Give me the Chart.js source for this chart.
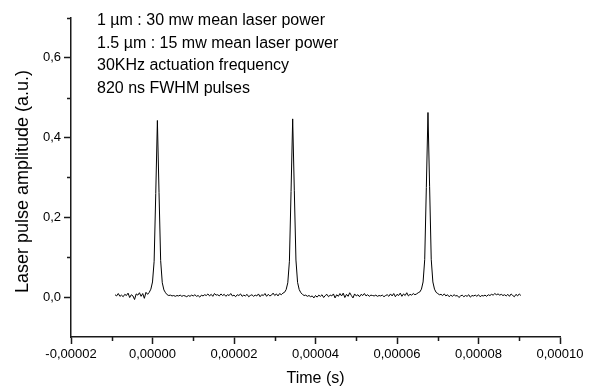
<!DOCTYPE html>
<html>
<head>
<meta charset="utf-8">
<script src="https://cdn.jsdelivr.net/npm/chart.js@4/dist/chart.umd.min.js"></script>
<style>
  html, body { margin: 0; padding: 0; background: #fff; }
  #wrap { width: 593px; height: 388px; }
</style>
</head>
<body>
<div id="wrap"><canvas id="c" width="593" height="388"></canvas></div>
<script>
// ---- Data (time in microseconds, amplitude in a.u.) ----
const timeUs = [
  -9.2,-8.8,-8.4,-8.0,-7.6,-7.2,-6.8,-6.4,-6.0,-5.6,
  -5.2,-4.8,-4.4,-4.0,-3.6,-3.2,-2.8,-2.4,-2.0,-1.6,
  -1.2,-0.8,-0.4,0.0,0.4,0.8,1.2,1.6,2.0,2.4,
  2.8,3.2,3.6,4.0,4.4,4.8,5.2,5.6,6.0,6.4,
  6.8,7.2,7.6,8.0,8.4,8.8,9.2,9.6,10.0,10.4,
  10.8,11.2,11.6,12.0,12.4,12.8,13.2,13.6,14.0,14.4,
  14.8,15.2,15.6,16.0,16.4,16.8,17.2,17.6,18.0,18.4,
  18.8,19.2,19.6,20.0,20.4,20.8,21.2,21.6,22.0,22.4,
  22.8,23.2,23.6,24.0,24.4,24.8,25.2,25.6,26.0,26.4,
  26.8,27.2,27.6,28.0,28.4,28.8,29.2,29.6,30.0,30.4,
  30.8,31.2,31.6,32.0,32.4,32.8,33.2,33.6,34.0,34.4,
  34.8,35.2,35.6,36.0,36.4,36.8,37.2,37.6,38.0,38.4,
  38.8,39.2,39.6,40.0,40.4,40.8,41.2,41.6,42.0,42.4,
  42.8,43.2,43.6,44.0,44.4,44.8,45.2,45.6,46.0,46.4,
  46.8,47.2,47.6,48.0,48.4,48.8,49.2,49.6,50.0,50.4,
  50.8,51.2,51.6,52.0,52.4,52.8,53.2,53.6,54.0,54.4,
  54.8,55.2,55.6,56.0,56.4,56.8,57.2,57.6,58.0,58.4,
  58.8,59.2,59.6,60.0,60.4,60.8,61.2,61.6,62.0,62.4,
  62.8,63.2,63.6,64.0,64.4,64.8,65.2,65.6,66.0,66.4,
  66.8,67.2,67.6,68.0,68.4,68.8,69.2,69.6,70.0,70.4,
  70.8,71.2,71.6,72.0,72.4,72.8,73.2,73.6,74.0,74.4,
  74.8,75.2,75.6,76.0,76.4,76.8,77.2,77.6,78.0,78.4,
  78.8,79.2,79.6,80.0,80.4,80.8,81.2,81.6,82.0,82.4,
  82.8,83.2,83.6,84.0,84.4,84.8,85.2,85.6,86.0,86.4,
  86.8,87.2,87.6,88.0,88.4,88.8,89.2,89.6,90.0,90.4
];

const amplitude = [
  // baseline before pulse 1
  0.006,0.003,0.009,0.002,0.005,0.001,0.007,0.004,0.010,-0.001,
  0.006,0.003,-0.006,0.008,0.005,0.011,0.002,0.009,-0.003,0.012,0.007,
  // pulse 1
  0.012,0.020,0.038,0.090,0.260,0.443,0.262,0.092,0.036,0.018,0.011,
  // baseline
  0.006,0.004,0.005,0.003,0.004,0.002,0.004,0.003,0.005,0.002,0.004,0.003,
  0.001,0.004,0.002,0.005,0.003,0.006,0.002,0.004,0.000,0.005,0.003,0.006,
  0.004,0.008,0.003,0.007,0.002,0.009,0.005,0.006,0.003,0.008,0.004,0.007,
  0.002,0.006,0.004,0.009,0.003,0.005,0.001,0.006,0.004,0.008,0.002,0.005,
  0.003,0.007,0.001,0.004,0.006,0.002,0.005,0.003,0.008,0.001,0.006,0.004,
  0.009,0.002,0.007,0.003,0.005,0.010,0.004,0.008,0.003,0.009,0.006,0.010,
  // pulse 2
  0.012,0.019,0.036,0.090,0.265,0.447,0.268,0.093,0.037,0.019,0.011,
  // baseline
  0.007,0.004,0.005,0.002,0.004,0.001,0.003,-0.002,0.004,0.000,0.005,0.002,
  0.006,-0.001,0.004,0.007,0.001,0.005,0.003,0.008,-0.002,0.006,0.002,0.009,
  0.003,0.010,-0.001,0.007,0.002,0.011,0.004,-0.002,0.008,0.003,0.006,0.001,
  0.007,0.004,0.009,0.003,0.006,0.002,0.005,0.004,0.003,0.005,0.002,0.004,
  0.003,0.005,0.001,0.004,0.006,0.002,0.008,0.003,0.009,0.001,0.007,0.004,
  0.010,0.002,0.008,0.004,0.011,0.003,0.007,0.005,0.009,0.006,0.008,0.011,
  // pulse 3
  0.013,0.020,0.038,0.094,0.275,0.463,0.278,0.095,0.038,0.020,0.012,
  // baseline after pulse 3
  0.009,0.006,0.007,0.004,0.008,0.003,0.006,0.001,0.005,0.002,0.006,0.003,
  0.004,-0.001,0.003,0.005,0.001,0.004,0.002,0.006,0.000,0.004,0.003,0.005,
  0.002,0.006,0.001,0.004,0.003,0.005,0.002,0.006,0.004,0.007,0.005,0.009,
  0.006,0.008,0.005,0.007,0.004,0.006,0.003,0.007,0.002,0.008,0.004,0.001,
  0.007,0.003,0.008,0.004
];

const xTickValues = [-0.00002, 0, 0.00002, 0.00004, 0.00006, 0.00008, 0.0001];
const xTickLabels = ['-0,00002','0,00000','0,00002','0,00004','0,00006','0,00008','0,00010'];
const xMinorTicks = [-0.00001, 0.00001, 0.00003, 0.00005, 0.00007, 0.00009];
const yTickValues = [0, 0.2, 0.4, 0.6];
const yTickLabels = ['0,0','0,2','0,4','0,6'];
const yMinorTicks = [0.1, 0.3, 0.5, 0.7];

const xTitle = 'Time (s)';
const yTitle = 'Laser pulse amplitude (a.u.)';
const annotationLines = [
  '1 µm : 30 mw mean laser power',
  '1.5 µm : 15 mw mean laser power',
  '30KHz actuation frequency',
  '820 ns FWHM pulses'
];

// ---- Chart ----
const FONT = '"Liberation Sans", Arial, sans-serif';
Chart.defaults.font.family = FONT;
Chart.defaults.color = '#000';

const AXIS_COLOR = '#1a1a1a';

const points = timeUs.map((t, i) => ({ x: t * 1e-6, y: amplitude[i] }));

const extras = {
  id: 'extras',
  afterDraw(chart) {
    const ctx = chart.ctx;
    const xs = chart.scales.x, ys = chart.scales.y;
    ctx.save();
    ctx.strokeStyle = AXIS_COLOR;
    ctx.lineWidth = 1.5;
    ctx.beginPath();
    xMinorTicks.forEach(v => {
      const px = Math.round(xs.getPixelForValue(v)) + 0.5;
      ctx.moveTo(px, xs.top);
      ctx.lineTo(px, xs.top + 4);
    });
    yMinorTicks.forEach(v => {
      const py = Math.round(ys.getPixelForValue(v)) + 0.5;
      ctx.moveTo(ys.right, py);
      ctx.lineTo(ys.right - 4, py);
    });
    ctx.stroke();

    ctx.fillStyle = '#000';
    ctx.font = '16px ' + FONT;
    ctx.textBaseline = 'middle';
    ctx.textAlign = 'left';
    annotationLines.forEach((line, i) => {
      ctx.fillText(line, 97, 21 + i * 22.5);
    });

    // y-axis title (rotated)
    ctx.font = '18px ' + FONT;
    ctx.textAlign = 'center';
    ctx.translate(23, (ys.top + ys.bottom) / 2 + 4);
    ctx.rotate(-Math.PI / 2);
    ctx.fillText(yTitle, 0, 0);
    ctx.restore();
  }
};

new Chart(document.getElementById('c'), {
  type: 'scatter',
  data: {
    datasets: [{
      data: points,
      showLine: true,
      borderColor: '#000',
      borderWidth: 1,
      pointRadius: 0,
      tension: 0,
      fill: false
    }]
  },
  options: {
    responsive: false,
    animation: false,
    layout: { padding: { top: 18, right: 33, left: 0, bottom: 0 } },
    plugins: { legend: { display: false }, tooltip: { enabled: false } },
    scales: {
      x: {
        type: 'linear',
        min: -0.00002,
        max: 0.0001,
        afterBuildTicks: s => { s.ticks = xTickValues.map(v => ({ value: v })); },
        afterFit: s => { s.height = 51; },
        ticks: {
          autoSkip: false, maxRotation: 0, minRotation: 0,
          padding: 3,
          font: { size: 13 },
          color: '#000',
          callback: (v, i) => xTickLabels[i]
        },
        grid: { drawOnChartArea: false, drawTicks: true, tickLength: 7, tickColor: AXIS_COLOR, tickWidth: 1.5 },
        border: { display: true, color: AXIS_COLOR, width: 1.5 },
        title: { display: true, text: xTitle, font: { size: 16 }, color: '#000', padding: { top: 0, bottom: 0 } }
      },
      y: {
        type: 'linear',
        min: -0.1,
        max: 0.7,
        afterBuildTicks: s => { s.ticks = yTickValues.map(v => ({ value: v })); },
        afterFit: s => { s.width = 71; },
        ticks: {
          autoSkip: false,
          padding: 3,
          font: { size: 13 },
          color: '#000',
          callback: (v, i) => yTickLabels[i]
        },
        grid: { drawOnChartArea: false, drawTicks: true, tickLength: 7, tickColor: AXIS_COLOR, tickWidth: 1.5 },
        border: { display: true, color: AXIS_COLOR, width: 1.5 },
        title: { display: false }
      }
    }
  },
  plugins: [extras]
});
</script>
</body>
</html>
